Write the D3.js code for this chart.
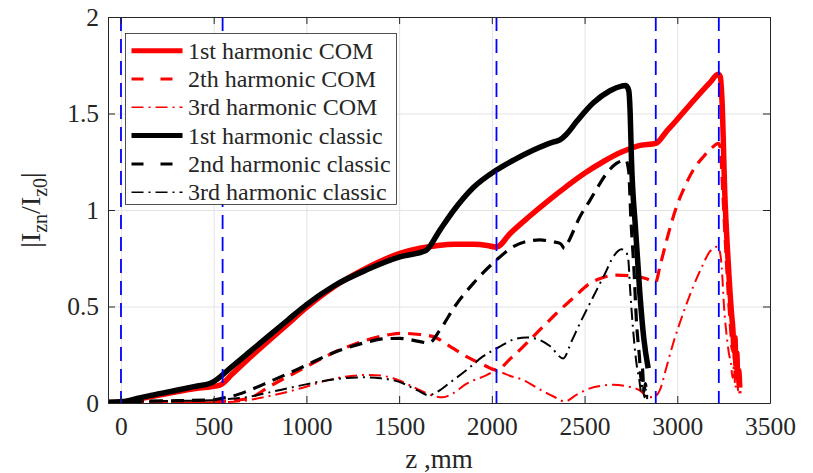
<!DOCTYPE html>
<html>
<head>
<meta charset="utf-8">
<script src="https://cdn.jsdelivr.net/npm/d3@7/dist/d3.min.js"></script>
<style>
  body { margin: 0; background: #fff; }
  svg text { font-family: "Liberation Serif", "Times New Roman", serif; fill: #262626; }
</style>
</head>
<body>
<svg id="chart" width="813" height="473"></svg>
<script>
// ---- data ------------------------------------------------------------
const xTickValues = [0, 500, 1000, 1500, 2000, 2500, 3000, 3500];
const yTickValues = [0, 0.5, 1, 1.5, 2];
const yTickLabels = ["0", "0.5", "1", "1.5", "2"];

// section boundaries along z (mm)
const sectionZ = [0, 548, 2025, 2884, 3224];

// |I_zn / I_z0| versus z (mm)
const com1st = [[-70,0.003],[0,0.004],[100,0.022],[200,0.04],[300,0.058],[400,0.075],[534,0.093],[600,0.15],[700,0.24],[800,0.325],[900,0.41],[1001,0.495],[1145,0.6],[1325,0.7],[1504,0.775],[1612,0.802],[1700,0.815],[1800,0.823],[1900,0.822],[1975,0.816],[2025,0.808],[2100,0.88],[2200,0.965],[2300,1.045],[2400,1.12],[2500,1.19],[2600,1.25],[2700,1.3],[2800,1.335],[2884,1.345],[2940,1.405],[2996,1.465],[3086,1.565],[3176,1.66],[3220,1.703],[3232,1.69],[3242,1.55],[3256,1.09],[3274,0.74],[3292,0.47],[3300,0.38],[3306,0.27],[3311,0.34],[3316,0.2],[3321,0.26],[3326,0.13],[3331,0.17],[3337,0.08]];

const com2nd = [[-70,0.001],[0,0.002],[300,0.004],[548,0.008],[600,0.012],[695,0.026],[800,0.085],[965,0.17],[1145,0.26],[1325,0.326],[1450,0.355],[1504,0.361],[1612,0.355],[1684,0.344],[1780,0.29],[1864,0.24],[1950,0.2],[2025,0.171],[2100,0.23],[2169,0.292],[2260,0.38],[2349,0.465],[2440,0.545],[2529,0.62],[2600,0.65],[2672,0.663],[2762,0.658],[2830,0.645],[2884,0.627],[2906,0.706],[2950,0.87],[2996,1.017],[3040,1.12],[3086,1.207],[3140,1.275],[3184,1.32],[3222,1.345],[3232,1.32],[3245,1.1],[3260,0.82],[3275,0.56],[3288,0.38],[3296,0.28],[3303,0.33],[3310,0.18],[3318,0.24],[3325,0.1],[3332,0.14],[3338,0.05]];

const com3rd = [[-70,0],[0,0.001],[300,0.003],[548,0.005],[650,0.01],[786,0.033],[965,0.075],[1145,0.125],[1325,0.145],[1400,0.142],[1468,0.128],[1540,0.1],[1612,0.067],[1680,0.038],[1735,0.03],[1790,0.05],[1864,0.1],[1950,0.135],[2025,0.163],[2100,0.14],[2169,0.119],[2259,0.07],[2330,0.035],[2394,0.008],[2460,0.045],[2529,0.076],[2600,0.09],[2655,0.095],[2720,0.088],[2798,0.065],[2835,0.035],[2870,0.03],[2906,0.067],[2940,0.18],[2978,0.31],[3030,0.46],[3086,0.603],[3130,0.7],[3176,0.785],[3215,0.81],[3228,0.79],[3240,0.7],[3252,0.5],[3265,0.36],[3278,0.26],[3290,0.2],[3298,0.13],[3305,0.19],[3313,0.08],[3320,0.12],[3330,0.04]];

const classic1st = [[-70,0.004],[0,0.006],[100,0.026],[200,0.047],[300,0.066],[400,0.086],[489,0.105],[600,0.19],[700,0.27],[800,0.35],[900,0.43],[1001,0.51],[1145,0.605],[1325,0.69],[1504,0.757],[1621,0.782],[1645,0.79],[1720,0.896],[1800,1.005],[1899,1.115],[2025,1.207],[2120,1.26],[2222,1.31],[2330,1.352],[2367,1.363],[2400,1.39],[2457,1.458],[2546,1.554],[2637,1.618],[2700,1.642],[2722,1.645],[2738,1.62],[2746,1.5],[2753,1.26],[2775,0.9],[2798,0.57],[2820,0.33],[2843,0.18]];

const classic2nd = [[-70,0.002],[0,0.004],[100,0.008],[300,0.012],[489,0.016],[548,0.025],[600,0.035],[695,0.067],[800,0.11],[965,0.18],[1145,0.26],[1325,0.315],[1420,0.333],[1504,0.335],[1612,0.318],[1660,0.31],[1720,0.378],[1800,0.5],[1900,0.62],[2025,0.741],[2115,0.81],[2200,0.84],[2259,0.845],[2330,0.835],[2370,0.826],[2392,0.8],[2410,0.83],[2475,0.965],[2529,1.05],[2575,1.125],[2619,1.19],[2670,1.24],[2700,1.255],[2722,1.26],[2738,1.2],[2750,0.95],[2766,0.7],[2780,0.42],[2795,0.25],[2806,0.12],[2812,0.18],[2820,0.06],[2828,0.1],[2835,0.03]];

const classic3rd = [[-70,0.001],[0,0.003],[100,0.008],[300,0.011],[489,0.014],[548,0.018],[695,0.033],[800,0.055],[965,0.09],[1145,0.122],[1300,0.133],[1400,0.128],[1504,0.108],[1600,0.065],[1660,0.04],[1700,0.055],[1780,0.11],[1864,0.171],[1950,0.24],[2043,0.292],[2120,0.33],[2187,0.34],[2259,0.326],[2313,0.295],[2385,0.231],[2430,0.32],[2475,0.413],[2520,0.5],[2565,0.585],[2610,0.67],[2655,0.758],[2700,0.796],[2718,0.79],[2735,0.75],[2745,0.6],[2760,0.4],[2778,0.22],[2795,0.12],[2805,0.06],[2812,0.1],[2822,0.03],[2830,0.07],[2838,0.02]];

const seriesLabels = ["1st harmonic COM", "2th harmonic COM", "3rd harmonic COM",
                      "1st harmonic classic", "2nd harmonic classic", "3rd harmonic classic"];

// ---- styles ----------------------------------------------------------
const series = [
  { label: seriesLabels[0], data: com1st,     color: "#ff0000", width: 5.5, dash: null,       legendWidth: 5,   legendDash: null },
  { label: seriesLabels[1], data: com2nd,     color: "#ff0000", width: 3.2, dash: "13,8",     legendWidth: 3,   legendDash: "12,17" },
  { label: seriesLabels[2], data: com3rd,     color: "#ff0000", width: 2,   dash: "12,5,2,5", legendWidth: 1.6, legendDash: "12,5,2,5" },
  { label: seriesLabels[3], data: classic1st, color: "#000000", width: 5.5, dash: null,       legendWidth: 5,   legendDash: null },
  { label: seriesLabels[4], data: classic2nd, color: "#000000", width: 3.2, dash: "13,8",     legendWidth: 3,   legendDash: "12,17" },
  { label: seriesLabels[5], data: classic3rd, color: "#000000", width: 2,   dash: "12,5,2,5", legendWidth: 1.6, legendDash: "12,5,2,5" }
];

const serif = '"Liberation Serif", "Times New Roman", serif';

// ---- layout ----------------------------------------------------------
const plot = { left: 108, right: 770, top: 17, bottom: 403 };
const svg = d3.select("#chart");

const x = d3.scaleLinear().domain([-70, 3500]).range([plot.left, plot.right]);
const y = d3.scaleLinear().domain([0, 2]).range([plot.bottom, plot.top]);
const W = plot.right - plot.left, H = plot.bottom - plot.top;

svg.append("rect").attr("width", 813).attr("height", 473).attr("fill", "#fff");

svg.append("defs").append("clipPath").attr("id", "plotClip")
  .append("rect").attr("x", plot.left).attr("y", plot.top).attr("width", W).attr("height", H);

// grid
const grid = svg.append("g").attr("class", "grid");
grid.append("g").attr("transform", `translate(0,${plot.bottom})`)
  .call(d3.axisBottom(x).tickValues(xTickValues).tickSize(-H).tickFormat(""))
  .call(g => g.select(".domain").remove())
  .call(g => g.selectAll("line").attr("stroke", "#e3e3e3").attr("stroke-width", 1));
grid.append("g").attr("transform", `translate(${plot.left},0)`)
  .call(d3.axisLeft(y).tickValues(yTickValues).tickSize(-W).tickFormat(""))
  .call(g => g.select(".domain").remove())
  .call(g => g.selectAll("line").attr("stroke", "#e3e3e3").attr("stroke-width", 1));

// curves
const line = d3.line().x(d => x(d[0])).y(d => y(d[1])).curve(d3.curveMonotoneX);
const curves = svg.append("g").attr("clip-path", "url(#plotClip)");
series.forEach(s => {
  curves.append("path")
    .datum(s.data)
    .attr("d", line)
    .attr("fill", "none")
    .attr("stroke", s.color)
    .attr("stroke-width", s.width)
    .attr("stroke-linejoin", "round")
    .attr("stroke-dasharray", s.dash);
});

// section boundaries
curves.selectAll("line.section").data(sectionZ).join("line")
  .attr("class", "section")
  .attr("x1", d => x(d)).attr("x2", d => x(d))
  .attr("y1", plot.top).attr("y2", plot.bottom)
  .attr("stroke", "#0000ff").attr("stroke-width", 1.8)
  .attr("stroke-dasharray", "14,8");

// axes
const axisColor = "#262626";
const tickLen = 7;
const styleAxis = g => {
  g.attr("font-family", serif).attr("font-size", 25.5);
  g.select(".domain").attr("stroke", axisColor).attr("stroke-width", 1);
  g.selectAll(".tick line").attr("stroke", axisColor);
  g.selectAll(".tick text").attr("fill", axisColor);
};
svg.append("g").attr("transform", `translate(0,${plot.bottom})`)
  .call(d3.axisBottom(x).tickValues(xTickValues).tickSizeInner(-tickLen).tickSizeOuter(0)
        .tickPadding(14).tickFormat(d3.format("d")))
  .call(styleAxis);
svg.append("g").attr("transform", `translate(0,${plot.top})`)
  .call(d3.axisTop(x).tickValues(xTickValues).tickSizeInner(-tickLen).tickSizeOuter(0).tickFormat(""))
  .call(styleAxis);
svg.append("g").attr("transform", `translate(${plot.left},0)`)
  .call(d3.axisLeft(y).tickValues(yTickValues).tickSizeInner(-tickLen).tickSizeOuter(0).tickPadding(9)
        .tickFormat((d, i) => yTickLabels[i]))
  .call(styleAxis);
svg.append("g").attr("transform", `translate(${plot.right},0)`)
  .call(d3.axisRight(y).tickValues(yTickValues).tickSizeInner(-tickLen).tickSizeOuter(0).tickFormat(""))
  .call(styleAxis);

// axis titles
svg.append("text")
  .attr("x", (plot.left + plot.right) / 2).attr("y", 468)
  .attr("text-anchor", "middle").attr("font-family", serif).attr("font-size", 27)
  .text("z ,mm");

const yTitle = svg.append("text")
  .attr("transform", `translate(40,${(plot.top + plot.bottom) / 2}) rotate(-90)`)
  .attr("text-anchor", "middle").attr("font-family", serif).attr("font-size", 28);
yTitle.append("tspan").text("|I");
yTitle.append("tspan").attr("dy", 7).attr("font-size", 20).text("zn");
yTitle.append("tspan").attr("dy", -7).text("/I");
yTitle.append("tspan").attr("dy", 7).attr("font-size", 20).text("z0");
yTitle.append("tspan").attr("dy", -7).text("|");

// legend
const legend = svg.append("g").attr("transform", "translate(125.5,33.5)");
legend.append("rect")
  .attr("width", 271).attr("height", 171)
  .attr("fill", "#fff").attr("stroke", "#262626").attr("stroke-width", 0.8);
const rowH = 28.3, firstRow = 17.2;
series.forEach((s, i) => {
  const cy = firstRow + i * rowH;
  legend.append("line")
    .attr("x1", 6).attr("x2", 57).attr("y1", cy).attr("y2", cy)
    .attr("stroke", s.color)
    .attr("stroke-width", s.legendWidth)
    .attr("stroke-dasharray", s.legendDash);
  legend.append("text")
    .attr("x", 62.5).attr("y", cy + 8)
    .attr("font-family", serif).attr("font-size", 24).attr("fill", "#000")
    .text(s.label);
});
</script>
</body>
</html>
